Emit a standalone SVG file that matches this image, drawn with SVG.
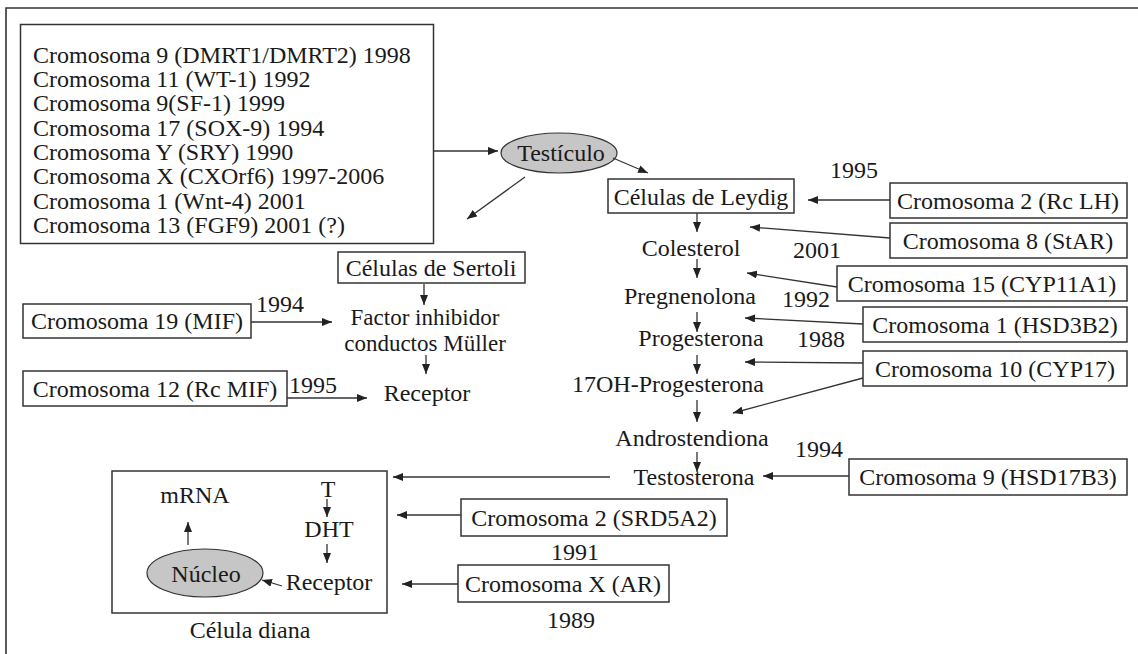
<svg xmlns="http://www.w3.org/2000/svg" width="1138" height="654" viewBox="0 0 1138 654">
<defs>
<marker id="ah" markerUnits="userSpaceOnUse" markerWidth="10" markerHeight="8" viewBox="0 0 10 8" refX="10" refY="4" orient="auto"><path d="M0,0 L10,4 L0,8 z" fill="#222"/></marker>
<style>
text{font-family:"Liberation Serif","Times New Roman",serif;font-size:24px;fill:#1a1a1a}
.m{text-anchor:middle}
.s{font-size:23px}
.box{fill:#fff;stroke:#333;stroke-width:1.5}
.ell{fill:#c6c6c6;stroke:#333;stroke-width:1.2}
.c line{stroke:#333;stroke-width:1.3;marker-end:url(#ah)}
.frame{stroke:#333;stroke-width:1.6;fill:none}
</style>
</defs>
<rect width="1138" height="654" fill="#fff"/>
<path class="frame" d="M6,654 V8 H1138"/>

<g id="genes-testiculo">
<rect class="box" x="20.5" y="24.5" width="413" height="219"/>
<text x="33" y="63">Cromosoma 9 (DMRT1/DMRT2) 1998</text>
<text x="33" y="87">Cromosoma 11 (WT-1) 1992</text>
<text x="33" y="111">Cromosoma 9(SF-1) 1999</text>
<text x="33" y="136">Cromosoma 17 (SOX-9) 1994</text>
<text x="33" y="160">Cromosoma Y (SRY) 1990</text>
<text x="33" y="184">Cromosoma X (CXOrf6) 1997-2006</text>
<text x="33" y="209">Cromosoma 1 (Wnt-4) 2001</text>
<text x="33" y="233">Cromosoma 13 (FGF9) 2001 (?)</text>
</g>

<g id="testiculo">
<ellipse class="ell" cx="559" cy="153" rx="58" ry="20"/>
<text class="m" x="561" y="161">Testículo</text>
</g>

<g id="leydig"><rect class="box" x="608" y="179" width="186" height="34"/><text class="m" x="701" y="205">Células de Leydig</text></g>
<g id="rclh"><rect class="box" x="890" y="183" width="237" height="35"/><text class="m" x="1008" y="209">Cromosoma 2 (Rc LH)</text></g>
<g id="star"><rect class="box" x="890" y="223" width="237" height="35"/><text class="m" x="1008" y="249">Cromosoma 8 (StAR)</text></g>
<g id="cyp11a1"><rect class="box" x="837" y="266" width="290" height="35"/><text class="m" x="982" y="292">Cromosoma 15 (CYP11A1)</text></g>
<g id="hsd3b2"><rect class="box" x="863" y="307" width="264" height="35"/><text class="m" x="995" y="333">Cromosoma 1 (HSD3B2)</text></g>
<g id="cyp17"><rect class="box" x="863" y="351" width="264" height="35"/><text class="m" x="995" y="377">Cromosoma 10 (CYP17)</text></g>
<g id="hsd17b3"><rect class="box" x="849" y="459" width="278" height="36"/><text class="m" x="988" y="485">Cromosoma 9 (HSD17B3)</text></g>
<g id="srd5a2"><rect class="box" x="461" y="499" width="266" height="37"/><text class="m" x="594" y="526">Cromosoma 2 (SRD5A2)</text></g>
<g id="ar"><rect class="box" x="458" y="565" width="211" height="37"/><text class="m" x="563" y="592">Cromosoma X (AR)</text></g>
<g id="sertoli"><rect class="box" x="338" y="252" width="187" height="31"/><text class="m" x="431" y="276">Células de Sertoli</text></g>
<g id="mif"><rect class="box" x="23" y="304" width="228" height="34"/><text class="m" x="137" y="329">Cromosoma 19 (MIF)</text></g>
<g id="rcmif"><rect class="box" x="23" y="371" width="264" height="35"/><text class="m" x="155" y="397">Cromosoma 12 (Rc MIF)</text></g>

<g id="chain">
<text class="m" x="691" y="256">Colesterol</text>
<text class="m" x="690" y="304">Pregnenolona</text>
<text class="m" x="701" y="346">Progesterona</text>
<text class="m" x="668" y="392">17OH-Progesterona</text>
<text class="m" x="692" y="446">Androstendiona</text>
<text class="m" x="694" y="485">Testosterona</text>
</g>

<g id="mullerian">
<text class="m s" x="425" y="325">Factor inhibidor</text>
<text class="m s" x="425" y="351">conductos Müller</text>
<text class="m" x="427" y="401">Receptor</text>
</g>

<g id="celula-diana">
<rect class="box" x="112" y="471" width="275" height="142"/>
<text class="m" x="195" y="503">mRNA</text>
<ellipse class="ell" cx="205" cy="573" rx="58" ry="24"/>
<text class="m" x="206" y="582">Núcleo</text>
<text class="m" x="328" y="497">T</text>
<text class="m" x="329" y="537">DHT</text>
<text class="m" x="329" y="590">Receptor</text>
<text class="m" x="250" y="638">Célula diana</text>
</g>

<g id="years">
<text class="m" x="854" y="178">1995</text>
<text class="m" x="817" y="258">2001</text>
<text class="m" x="806" y="307">1992</text>
<text class="m" x="821" y="347">1988</text>
<text class="m" x="819" y="457">1994</text>
<text class="m" x="575" y="560">1991</text>
<text class="m" x="571" y="628">1989</text>
<text x="256" y="312">1994</text>
<text x="289" y="393">1995</text>
</g>

<g id="connectors" class="c">
<line x1="433" y1="151" x2="498" y2="151"/>
<line x1="613" y1="158" x2="648" y2="173"/>
<line x1="525" y1="177" x2="467" y2="219"/>
<line x1="697" y1="213" x2="697" y2="232"/>
<line x1="697" y1="259" x2="697" y2="278"/>
<line x1="697" y1="312" x2="697" y2="332"/>
<line x1="697" y1="355" x2="697" y2="374"/>
<line x1="697" y1="400" x2="697" y2="422"/>
<line x1="697" y1="452" x2="697" y2="472"/>
<line x1="890" y1="200" x2="808" y2="200"/>
<line x1="890" y1="238" x2="750" y2="227"/>
<line x1="837" y1="287" x2="747" y2="273"/>
<line x1="863" y1="324" x2="745" y2="318"/>
<line x1="863" y1="363" x2="745" y2="362"/>
<line x1="863" y1="378" x2="733" y2="413"/>
<line x1="849" y1="476" x2="763" y2="476"/>
<line x1="610" y1="477" x2="393" y2="477"/>
<line x1="461" y1="515" x2="397" y2="515"/>
<line x1="458" y1="584" x2="402" y2="584"/>
<line x1="251" y1="322" x2="332" y2="322"/>
<line x1="287" y1="398" x2="367" y2="398"/>
<line x1="424" y1="284" x2="424" y2="305"/>
<line x1="426" y1="355" x2="426" y2="374"/>
<line x1="327" y1="499" x2="327" y2="517"/>
<line x1="327" y1="544" x2="327" y2="563"/>
<line x1="282" y1="586" x2="262" y2="580"/>
<line x1="188" y1="545" x2="188" y2="522"/>
</g>
</svg>
